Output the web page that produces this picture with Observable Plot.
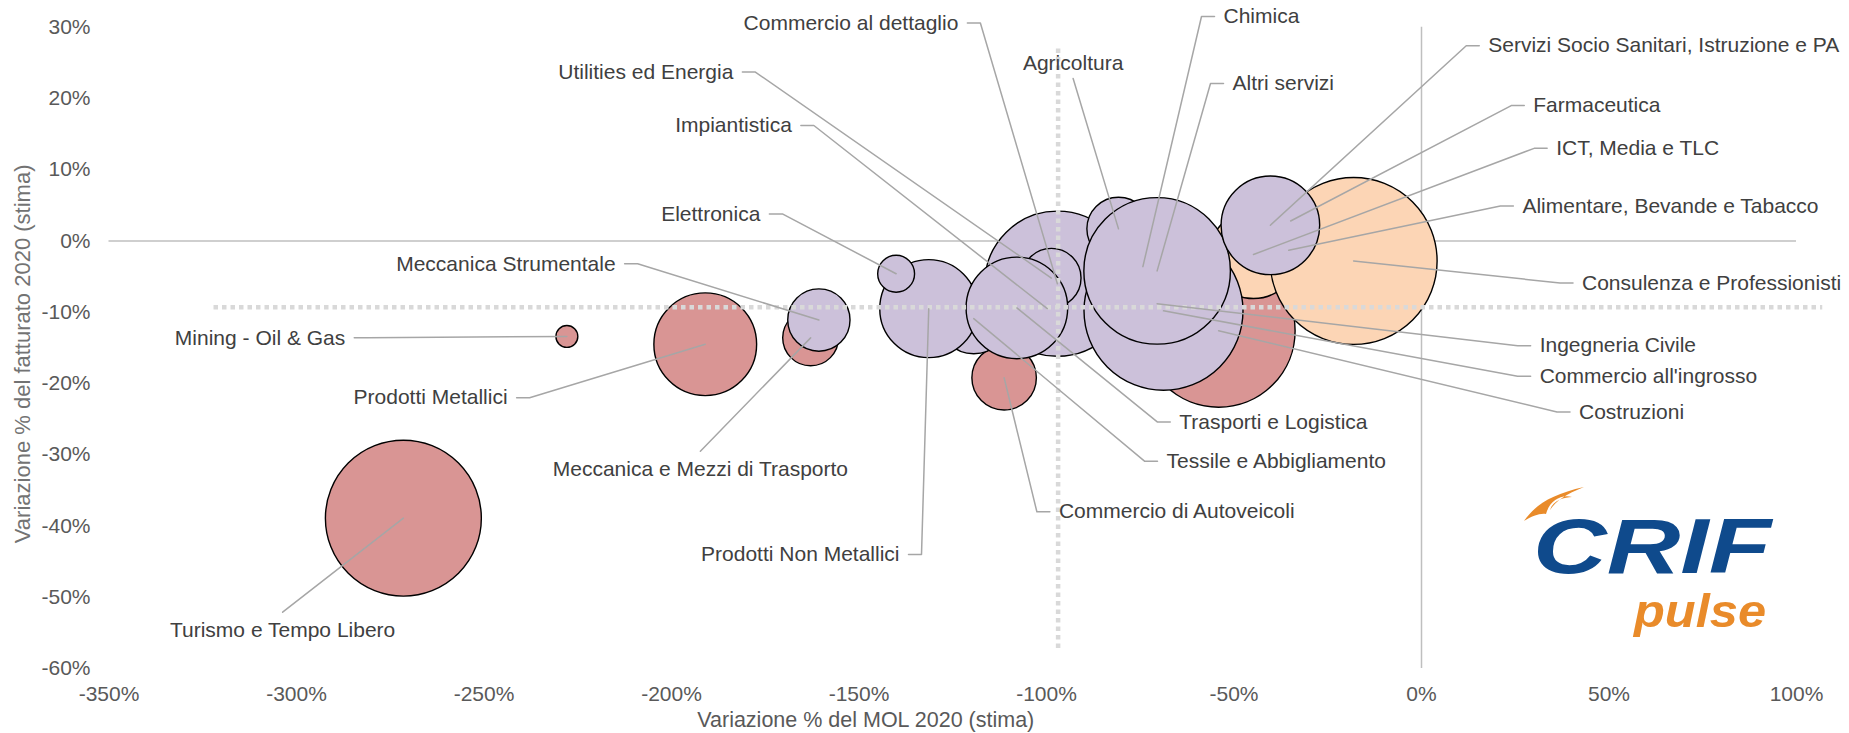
<!DOCTYPE html>
<html><head><meta charset="utf-8">
<script src="https://cdn.jsdelivr.net/npm/d3@7"></script>
<script src="https://cdn.jsdelivr.net/npm/@observablehq/plot@0.6"></script>
<style>html,body{margin:0;padding:0;background:#fff;}</style>
</head><body><div id="chart"></div>
<script>
// ---- data (drawing order: red series, orange series, purple series) ----
const settori = [
  "Turismo e Tempo Libero","Mining - Oil & Gas","Prodotti Metallici","Meccanica e Mezzi di Trasporto",
  "Commercio di Autoveicoli","Costruzioni",
  "ICT, Media e TLC","Farmaceutica","Alimentare, Bevande e Tabacco","Consulenza e Professionisti",
  "Tessile e Abbigliamento","Prodotti Non Metallici","Elettronica","Meccanica Strumentale","Impiantistica",
  "Commercio al dettaglio","Utilities ed Energia","Trasporti e Logistica","Chimica","Ingegneria Civile",
  "Commercio all'ingrosso","Agricoltura","Altri servizi","Servizi Socio Sanitari, Istruzione e PA"
];
const mol = [-271.5,-227.9,-191.0,-162.9,-111.3,-54.1,-44.8,-34.9,-35.4,-18.1,-119.4,-131.4,-140.1,-160.7,-99.8,-97.1,-98.7,-107.9,-74.3,-70.5,-68.8,-80.8,-70.5,-40.3];
const fatturato = [-38.9,-13.4,-14.5,-13.6,-19.2,-12.6,-1.9,2.8,-1.3,-2.8,-10.9,-9.5,-4.6,-11.1,-9.5,-6.0,-5.2,-9.4,-3.6,-8.8,-9.8,1.7,-4.2,2.2];
const peso = [60.8,1.2,26.4,7.8,10.4,58.5,19.4,4.8,2.6,69.7,12.3,24.0,3.4,9.7,6.3,52.7,8.8,25.8,20.3,16.0,63.2,10.0,53.7,24.3];
const gruppo = ["rosso","rosso","rosso","rosso","rosso","rosso","arancio","arancio","arancio","arancio",
  "viola","viola","viola","viola","viola","viola","viola","viola","viola","viola","viola","viola","viola","viola"];

// label anchor points (data units) and side of the text relative to the anchor
const labelX = [-303.7,-287.0,-243.7,-192.3,-96.7,42.0,35.9,29.8,26.9,42.8,-68.0,-139.2,-176.3,-214.9,-167.9,-123.5,-183.5,-64.6,-52.8,31.5,31.5,-92.9,-50.4,17.8];
const labelY = [-52.1,-13.6,-22.0,-29.5,-38.0,-24.0,13.0,19.0,4.9,-5.9,-30.9,-44.0,3.8,-3.2,16.2,30.6,23.7,-25.4,31.5,-14.7,-19.0,22.8,22.1,27.4];
const labelSide = ["below","end","end","below","start","start","start","start","start","start","start","end","end","end","end","end","end","start","start","start","start","above","start","start"];

const gruppi = ["rosso","arancio","viola"];
const coloriGruppi = ["#d99594","#fcd5b5","#ccc1da"];

const xTicks = [-350,-300,-250,-200,-150,-100,-50,0,50,100];
const yTicks = [-60,-50,-40,-30,-20,-10,0,10,20,30];

// dotted reference lines (averages)
const mediaMol = -96.9, mediaMolDa = -57.2, mediaMolA = 27.2;
const mediaFatt = -9.3, mediaFattDa = -322, mediaFattA = 107;

const xTitle = "Variazione % del MOL 2020 (stima)";
const yTitle = "Variazione % del fatturato 2020 (stima)";

// ---- layout ----
const W = 1849, H = 733, mL = 108.5, mR = 53, mT = 26.7, mB = 65;
const xDomain = [-350, 100], yDomain = [-60, 30];
const kx = (W - mL - mR) / (xDomain[1] - xDomain[0]);

const bolle = settori.map((s, i) => ({name: s, x: mol[i], y: fatturato[i], peso: peso[i], gruppo: gruppo[i]}));
const etichette = settori.map((s, i) => ({name: s, lx: labelX[i], ly: labelY[i], side: labelSide[i]}));

const leader = [];
etichette.forEach((e, i) => {
  const b = bolle[i];
  leader.push({name: e.name, x: b.x, y: b.y});
  if (e.side === "end") {
    leader.push({name: e.name, x: e.lx + 22 / kx, y: e.ly});
    leader.push({name: e.name, x: e.lx + 9 / kx, y: e.ly});
  } else if (e.side === "start") {
    leader.push({name: e.name, x: e.lx - 22 / kx, y: e.ly});
    leader.push({name: e.name, x: e.lx - 9 / kx, y: e.ly});
  } else {
    leader.push({name: e.name, x: e.lx, y: e.ly});
  }
});

const font = "'Liberation Sans', Arial, sans-serif";
const txt = {text: "name", fontSize: 21, fill: "#404040", fontFamily: font, lineAnchor: "middle"};

const plot = Plot.plot({
  width: W, height: H,
  marginLeft: mL, marginRight: mR, marginTop: mT, marginBottom: mB,
  style: {background: "white", color: "#595959", fontFamily: font, fontSize: "21px", overflow: "visible"},
  x: {domain: xDomain, ticks: xTicks, tickFormat: d => d + "%", tickSize: 0, tickPadding: 18, label: null},
  y: {domain: yDomain, ticks: yTicks, tickFormat: d => d + "%", tickSize: 0, tickPadding: 18.5, label: null},
  r: {type: "sqrt", domain: [0, 100], range: [0, 100]},
  color: {domain: gruppi, range: coloriGruppi},
  marks: [
    Plot.ruleY([0], {stroke: "#bfbfbf", strokeWidth: 1.5}),
    Plot.ruleX([0], {stroke: "#bfbfbf", strokeWidth: 1.5}),
    Plot.dot(bolle, {x: "x", y: "y", r: "peso", fill: "gruppo", stroke: "#000", strokeWidth: 1.4, fillOpacity: 1, sort: null}),
    Plot.ruleY([mediaFatt], {x1: mediaFattDa, x2: mediaFattA, stroke: "#d9d9d9", strokeWidth: 4.5, strokeDasharray: "4.5,4"}),
    Plot.ruleX([mediaMol], {y1: mediaMolDa, y2: mediaMolA, stroke: "#d9d9d9", strokeWidth: 4.5, strokeDasharray: "4.5,4"}),
    Plot.line(leader, {x: "x", y: "y", z: "name", stroke: "#a6a6a6", strokeWidth: 1.5}),
    Plot.text(etichette.filter(d => d.side === "end"), {x: "lx", y: "ly", textAnchor: "end", ...txt}),
    Plot.text(etichette.filter(d => d.side === "start"), {x: "lx", y: "ly", textAnchor: "start", ...txt}),
    Plot.text(etichette.filter(d => d.side === "below"), {x: "lx", y: "ly", textAnchor: "middle", dy: 18, ...txt}),
    Plot.text(etichette.filter(d => d.side === "above"), {x: "lx", y: "ly", textAnchor: "middle", dy: -15, ...txt}),
    Plot.text([xTitle], {frameAnchor: "bottom", text: d => d, textAnchor: "middle", lineAnchor: "middle", dx: -87, dy: 52, fontSize: 21.5, fill: "#595959", fontFamily: font}),
    Plot.text([yTitle], {frameAnchor: "left", text: d => d, textAnchor: "middle", lineAnchor: "middle", rotate: -90, dx: -86, dy: 6, fontSize: 22, fill: "#737373", fontFamily: font})
  ]
});
document.getElementById("chart").appendChild(plot);

// ---- CRIF pulse logo ----
const svgEl = plot.tagName.toLowerCase() === "svg" ? plot : plot.querySelector("svg");
const logo = d3.select(svgEl).append("g").attr("font-family", font).attr("text-anchor", "start");
logo.append("path")
  .attr("d", "M1524,521 C1535,505 1552,494 1584,487 C1566,494 1556,501 1550,510 C1553,500 1565,497 1572,497 C1560,494 1549,502 1546,514 C1540,513 1532,516 1524,521 Z")
  .attr("fill", "#e98b2a");
logo.append("text").attr("x", 1533).attr("y", 573)
  .attr("font-weight", "bold").attr("font-style", "italic").attr("font-size", 78)
  .attr("textLength", 238).attr("lengthAdjust", "spacingAndGlyphs")
  .attr("fill", "#0f4a8c").text("CRIF");
logo.append("text").attr("x", 1634).attr("y", 627)
  .attr("font-weight", "bold").attr("font-style", "italic").attr("font-size", 46)
  .attr("textLength", 132).attr("lengthAdjust", "spacingAndGlyphs")
  .attr("fill", "#e98b2a").text("pulse");
</script>
</body></html>
